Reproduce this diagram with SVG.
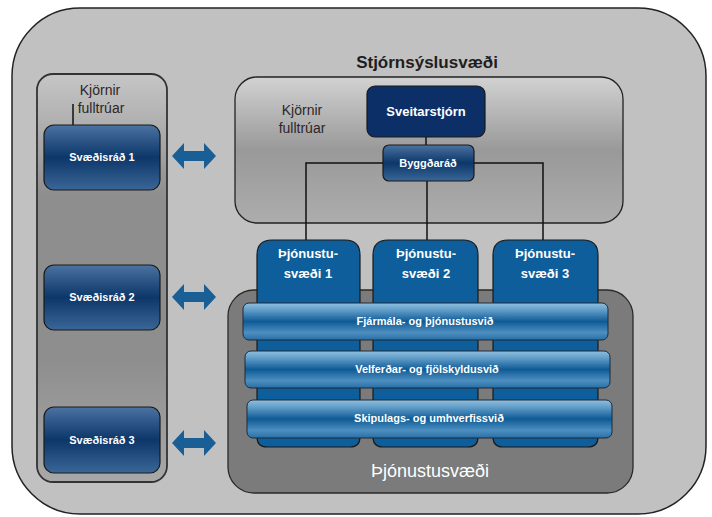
<svg xmlns="http://www.w3.org/2000/svg" width="712" height="517" viewBox="0 0 712 517">
<defs>
<linearGradient id="gCol" x1="0" y1="0" x2="0" y2="1">
<stop offset="0" stop-color="#c6c6c6"/><stop offset="0.3" stop-color="#8e8e8e"/><stop offset="0.7" stop-color="#8e8e8e"/><stop offset="1" stop-color="#a8a8a8"/>
</linearGradient>
<linearGradient id="gTop" x1="0" y1="0" x2="0" y2="1">
<stop offset="0" stop-color="#d2d2d2"/><stop offset="0.5" stop-color="#999999"/><stop offset="1" stop-color="#adadad"/>
</linearGradient>
<linearGradient id="gNode" x1="0" y1="0" x2="0" y2="1">
<stop offset="0" stop-color="#4a73a2"/><stop offset="0.5" stop-color="#0d3669"/><stop offset="1" stop-color="#3a6797"/>
</linearGradient>
<linearGradient id="gBand" x1="0" y1="0" x2="0" y2="1">
<stop offset="0" stop-color="#8fc0de"/><stop offset="0.2" stop-color="#5f9bc7"/><stop offset="0.5" stop-color="#0f5b96"/><stop offset="0.8" stop-color="#4d8fc0"/><stop offset="1" stop-color="#2a6ea5"/>
</linearGradient>
</defs>
<style>
.t{font-family:"Liberation Sans",Arial,sans-serif;}
.w{fill:#ffffff;font-weight:bold;text-anchor:middle;}
.dk{fill:#2e2626;font-size:14px;text-anchor:middle;}
.node{stroke:#1a1a1a;stroke-width:1.2;}
.band{fill:url(#gBand);stroke:#1c2a3a;stroke-width:1;}
.conn{stroke:#111;stroke-width:1.5;fill:none;}
.arr{fill:#1a5e96;}
</style>

<g id="outer">
<rect x="12" y="8" width="694" height="506" rx="68" ry="68" fill="#c1c1c1" stroke="#222" stroke-width="1.5"/>
</g>

<g id="title">
<text class="t" x="427" y="68" font-size="17" font-weight="bold" fill="#1e1e1e" text-anchor="middle">Stjórnsýslusvæði</text>
</g>

<g id="left-column">
<rect x="37" y="74" width="130" height="408" rx="16" ry="16" fill="url(#gCol)" stroke="#333" stroke-width="1.8"/>
<text class="t dk" x="100" y="95">Kjörnir</text>
<text class="t dk" x="101" y="113">fulltrúar</text>
</g>

<g id="admin-box">
<rect x="235" y="77" width="388" height="146" rx="22" ry="22" fill="url(#gTop)" stroke="#222" stroke-width="1.3"/>
<text class="t dk" x="302" y="115">Kjörnir</text>
<text class="t dk" x="302" y="133">fulltrúar</text>
</g>

<g id="service-area">
<rect x="228" y="290" width="405" height="203" rx="26" ry="26" fill="#7b7b7b" stroke="#2a2a2a" stroke-width="1.3"/>
<text class="t" x="430" y="477" font-size="18" fill="#ffffff" text-anchor="middle">Þjónustusvæði</text>
</g>

<g id="connectors">
<line class="conn" x1="73" y1="104" x2="73" y2="125" stroke-width="1"/>
<line class="conn" x1="426" y1="137" x2="426" y2="145"/>
<polyline class="conn" points="383,163 306,163 306,241"/>
<polyline class="conn" points="474,163 543,163 543,241"/>
<line class="conn" x1="427" y1="181" x2="427" y2="241"/>
<path class="arr" d="M172,156 L184,143 L184,151 L204,151 L204,143 L216,156 L204,169 L204,161 L184,161 L184,169 Z"/>
<path class="arr" d="M172,297 L184,284 L184,292 L204,292 L204,284 L216,297 L204,310 L204,302 L184,302 L184,310 Z"/>
<path class="arr" d="M172,443 L184,430 L184,438 L204,438 L204,430 L216,443 L204,456 L204,448 L184,448 L184,456 Z"/>
</g>

<g id="svaedisrad-1">
<rect class="node" x="44" y="125" width="116" height="65" rx="10" fill="url(#gNode)"/>
<text class="t w" x="102" y="161" font-size="11">Svæðisráð 1</text>
</g>
<g id="svaedisrad-2">
<rect class="node" x="44" y="265" width="116" height="65" rx="10" fill="url(#gNode)"/>
<text class="t w" x="102" y="301" font-size="11">Svæðisráð 2</text>
</g>
<g id="svaedisrad-3">
<rect class="node" x="44" y="407" width="116" height="66" rx="10" fill="url(#gNode)"/>
<text class="t w" x="102" y="444" font-size="11">Svæðisráð 3</text>
</g>

<g id="sveitarstjorn">
<rect class="node" x="367" y="86" width="118" height="51" rx="8" fill="#0b2f66"/>
<text class="t w" x="426" y="116" font-size="13">Sveitarstjórn</text>
</g>

<g id="byggdarad">
<rect class="node" x="383" y="145" width="91" height="36" rx="6" fill="url(#gNode)"/>
<text class="t w" x="428" y="167" font-size="11">Byggðaráð</text>
</g>

<g id="thjonustusvaedi-1">
<path class="node" d="M257,255 Q257,240 272,240 L345,240 Q360,240 360,255 L360,437 Q360,447 350,447 L267,447 Q257,447 257,437 Z" fill="#0d5e9a"/>
<text class="t w" x="308" y="258" font-size="13">Þjónustu-</text>
<text class="t w" x="308" y="278" font-size="13">svæði 1</text>
</g>
<g id="thjonustusvaedi-2">
<path class="node" d="M373,255 Q373,240 388,240 L463,240 Q478,240 478,255 L478,437 Q478,447 468,447 L383,447 Q373,447 373,437 Z" fill="#0d5e9a"/>
<text class="t w" x="426" y="258" font-size="13">Þjónustu-</text>
<text class="t w" x="426" y="278" font-size="13">svæði 2</text>
</g>
<g id="thjonustusvaedi-3">
<path class="node" d="M493,255 Q493,240 508,240 L583,240 Q598,240 598,255 L598,437 Q598,447 588,447 L503,447 Q493,447 493,437 Z" fill="#0d5e9a"/>
<text class="t w" x="545" y="258" font-size="13">Þjónustu-</text>
<text class="t w" x="545" y="278" font-size="13">svæði 3</text>
</g>

<g id="fjarmala">
<rect class="band" x="243" y="303" width="365" height="37" rx="6"/>
<text class="t w" x="425" y="325" font-size="11">Fjármála- og þjónustusvið</text>
</g>
<g id="velferdar">
<rect class="band" x="245" y="351" width="365" height="37" rx="6"/>
<text class="t w" x="427" y="373" font-size="11">Velferðar- og fjölskyldusvið</text>
</g>
<g id="skipulags">
<rect class="band" x="247" y="400" width="365" height="38" rx="6"/>
<text class="t w" x="429" y="422" font-size="11">Skipulags- og umhverfissvið</text>
</g>
</svg>
